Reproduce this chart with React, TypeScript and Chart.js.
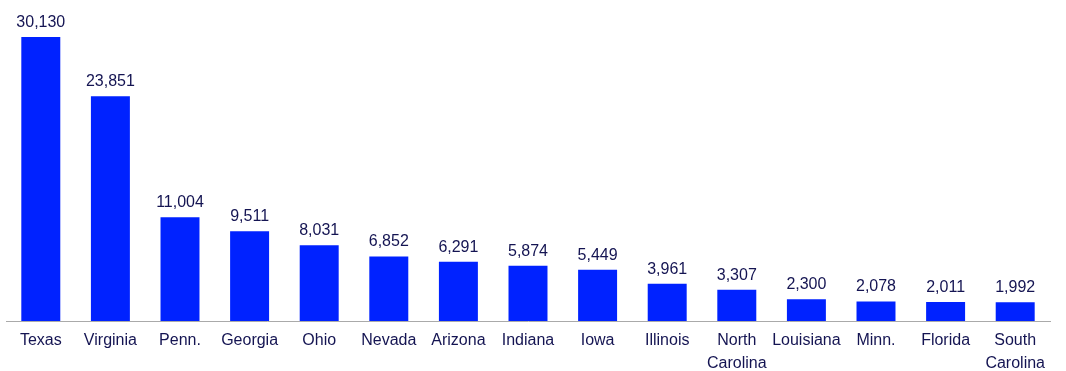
import React, { useEffect, useRef } from "react";
import { Chart, registerables } from "chart.js";

Chart.register(...registerables);

const categories: (string | string[])[] = [
  "Texas", "Virginia", "Penn.", "Georgia", "Ohio", "Nevada", "Arizona", "Indiana",
  "Iowa", "Illinois", ["North", "Carolina"], "Louisiana", "Minn.", "Florida", ["South", "Carolina"],
];
const values: number[] = [30130, 23851, 11004, 9511, 8031, 6852, 6291, 5874, 5449, 3961, 3307, 2300, 2078, 2011, 1992];

const BAR_COLOR = "#0022ff";
const TEXT_COLOR = "#141452";
const FONT = "Liberation Sans, Arial, sans-serif";

const labelPlugin = {
  id: "valueLabels",
  afterDatasetsDraw(chart: any) {
    const ctx = chart.ctx;
    const meta = chart.getDatasetMeta(0);
    ctx.save();
    ctx.fillStyle = TEXT_COLOR;
    ctx.font = `16px ${FONT}`;
    ctx.textAlign = "center";
    ctx.textBaseline = "alphabetic";
    meta.data.forEach((el: any, i: number) => {
      ctx.fillText(values[i].toLocaleString("en-US"), el.x, el.y - 10);
    });
    ctx.restore();
  },
};

export default function App() {
  const ref = useRef<HTMLCanvasElement | null>(null);
  useEffect(() => {
    if (!ref.current) return;
    const chart = new Chart(ref.current, {
      type: "bar",
      data: {
        labels: categories,
        datasets: [
          {
            data: values,
            backgroundColor: BAR_COLOR,
            barPercentage: 0.56,
            categoryPercentage: 1,
          },
        ],
      },
      options: {
        animation: false,
        responsive: false,
        maintainAspectRatio: false,
        layout: { padding: { left: 6, right: 16, top: 37, bottom: 0 } },
        plugins: { legend: { display: false }, tooltip: { enabled: false } },
        scales: {
          x: {
            grid: { display: false },
            border: { display: true, color: "#aaaaaa", width: 1 },
            ticks: {
              color: TEXT_COLOR,
              font: { family: FONT, size: 16, lineHeight: 1.45 },
              padding: 0,
              maxRotation: 0,
              autoSkip: false,
            },
            afterFit: (scale: any) => {
              scale.height = 50;
            },
          },
          y: {
            display: false,
            min: 0,
            max: 30130,
          },
        },
      },
      plugins: [labelPlugin],
    });
    return () => chart.destroy();
  }, []);
  return (
    <div style={{ position: "absolute", left: 0, top: 0, width: 1066, height: 371, background: "#fff" }}>
      <canvas ref={ref} width={1066} height={371} style={{ width: 1066, height: 371, display: "block" }} />
    </div>
  );
}
